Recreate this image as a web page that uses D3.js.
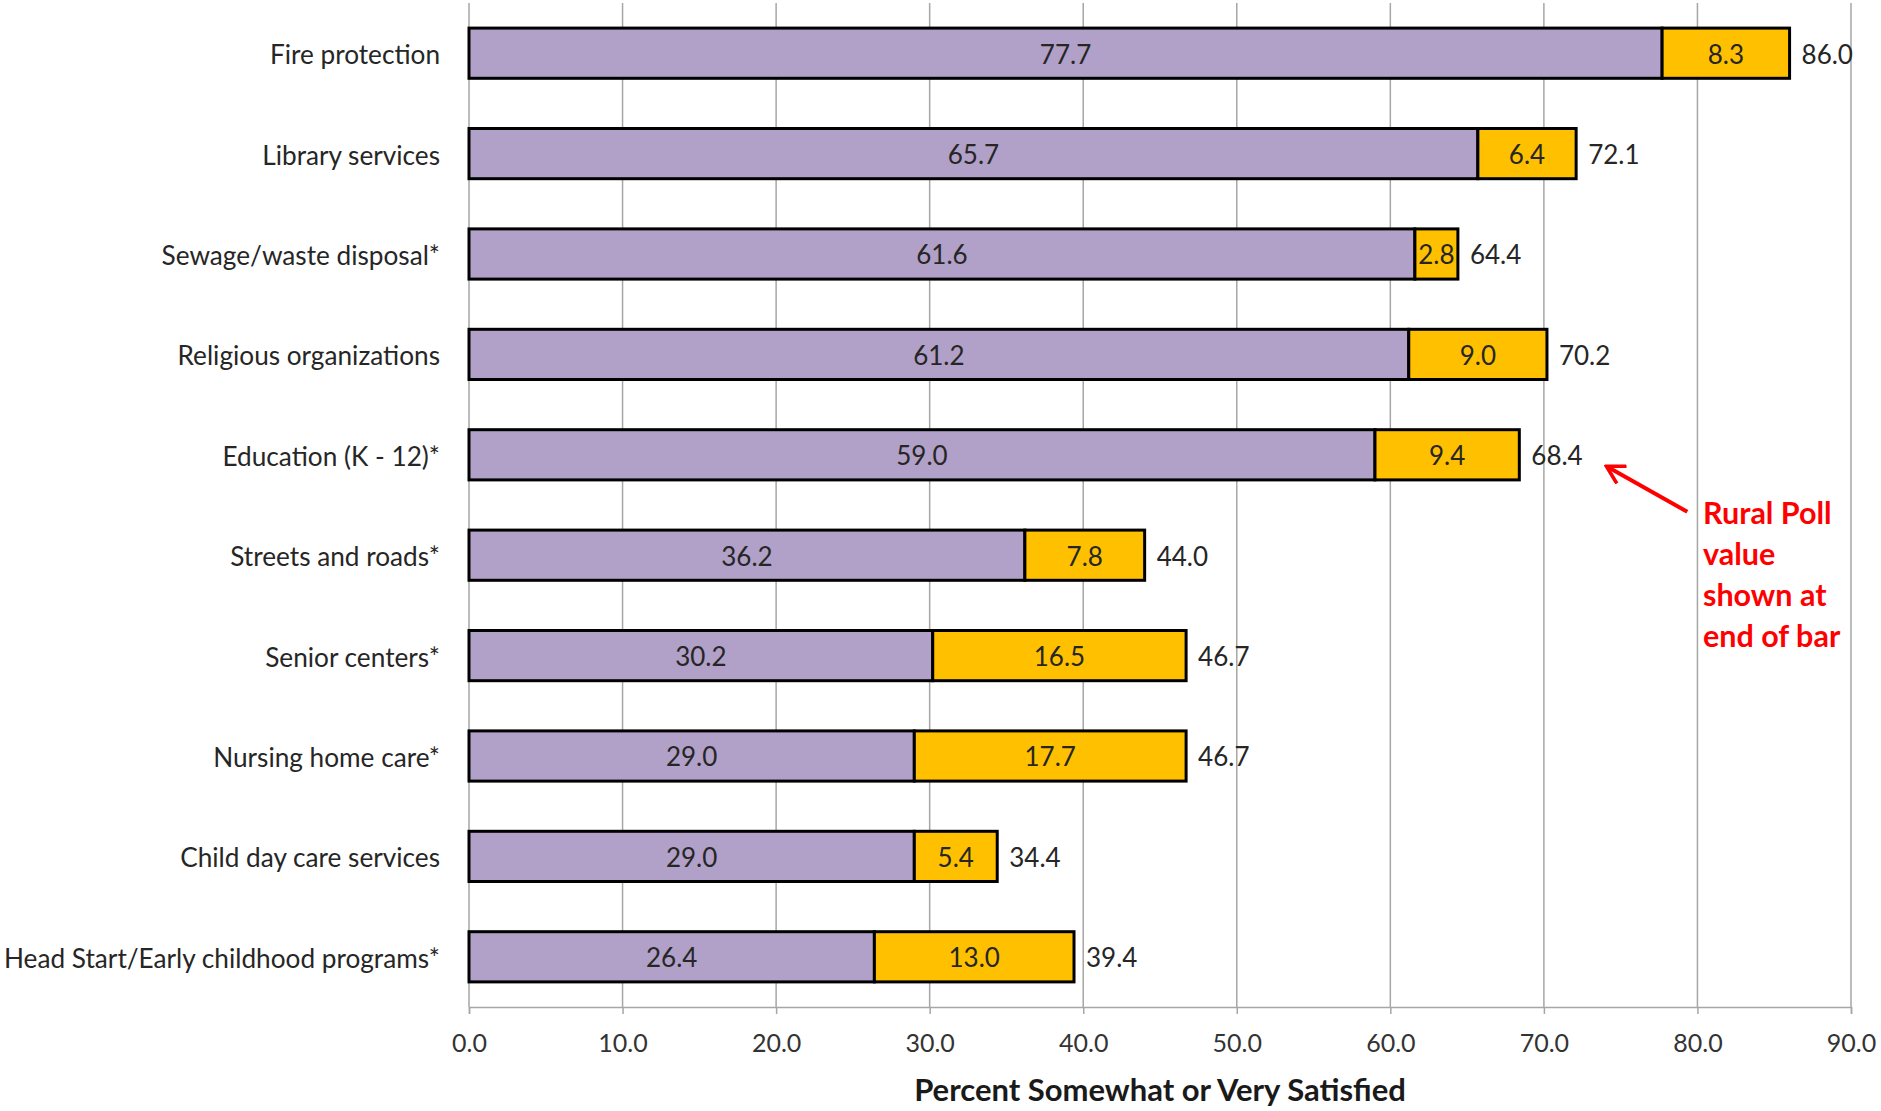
<!DOCTYPE html>
<html>
<head>
<meta charset="utf-8">
<script src="https://cdn.jsdelivr.net/npm/d3@7"></script>
<style>
  html, body { margin: 0; padding: 0; background: #fff; }
  svg { display: block; }
  text { font-family: Lato, "Open Sans", sans-serif; }
</style>
</head>
<body>
<svg id="chart" width="1881" height="1111"></svg>
<script>
const categories = [
  "Fire protection",
  "Library services",
  "Sewage/waste disposal*",
  "Religious organizations",
  "Education (K - 12)*",
  "Streets and roads*",
  "Senior centers*",
  "Nursing home care*",
  "Child day care services",
  "Head Start/Early childhood programs*"
];
const verySatisfied = [77.7, 65.7, 61.6, 61.2, 59.0, 36.2, 30.2, 29.0, 29.0, 26.4];
const somewhatSatisfied = [8.3, 6.4, 2.8, 9.0, 9.4, 7.8, 16.5, 17.7, 5.4, 13.0];
const ruralPollTotals = [86.0, 72.1, 64.4, 70.2, 68.4, 44.0, 46.7, 46.7, 34.4, 39.4];
const xTicks = [0, 10, 20, 30, 40, 50, 60, 70, 80, 90];
const xAxisTitle = "Percent Somewhat or Very Satisfied";
const annotationLines = ["Rural Poll", "value", "shown at", "end of bar"];
const annotatedCategory = "Education (K - 12)*";

const svg = d3.select("#chart");
const plot = { left: 469, right: 1851, top: 3, bottom: 1007 };

const x = d3.scaleLinear().domain([0, 90]).range([plot.left, plot.right]);
const y = d3.scaleBand().domain(categories).range([plot.top, plot.bottom])
  .paddingInner(0.5).paddingOuter(0.25);

// gridlines
svg.append("g").selectAll("line").data(xTicks).join("line")
  .attr("x1", d => x(d)).attr("x2", d => x(d))
  .attr("y1", plot.top).attr("y2", plot.bottom)
  .attr("stroke", "#a6a6a6").attr("stroke-width", 1.5);

// x axis
const xAxis = d3.axisBottom(x).tickValues(xTicks).tickFormat(d3.format(".1f"))
  .tickSize(7).tickPadding(20);
const gx = svg.append("g").attr("transform", `translate(0,${plot.bottom})`).call(xAxis);
gx.select(".domain").attr("stroke", "#a6a6a6").attr("stroke-width", 1.5);
gx.selectAll(".tick line").attr("stroke", "#a6a6a6").attr("stroke-width", 1.5);
gx.selectAll(".tick text").attr("font-size", 25).attr("fill", "#333")
  .style("font-family", "Lato, sans-serif");

// axis title
svg.append("text").attr("x", (plot.left + plot.right) / 2).attr("y", 1101)
  .attr("text-anchor", "middle").attr("font-size", 31).attr("font-weight", "bold")
  .attr("fill", "#1a1a1a").text(xAxisTitle);

// category labels
svg.append("g").selectAll("text").data(categories).join("text")
  .attr("x", 440).attr("y", d => y(d) + y.bandwidth() / 2)
  .attr("dy", "0.42em").attr("text-anchor", "end")
  .attr("font-size", 26.2).attr("fill", "#262626").text(d => d);

const rows = categories.map((c, i) => ({
  cat: c, a: verySatisfied[i], b: somewhatSatisfied[i], total: ruralPollTotals[i]
}));

const bars = svg.append("g");
// purple segments
bars.selectAll("rect.a").data(rows).join("rect").attr("class", "a")
  .attr("x", x(0)).attr("y", d => y(d.cat))
  .attr("width", d => x(d.a) - x(0)).attr("height", y.bandwidth())
  .attr("fill", "#b1a0c7").attr("stroke", "#000").attr("stroke-width", 3);
// gold segments
bars.selectAll("rect.b").data(rows).join("rect").attr("class", "b")
  .attr("x", d => x(d.a)).attr("y", d => y(d.cat))
  .attr("width", d => x(d.a + d.b) - x(d.a)).attr("height", y.bandwidth())
  .attr("fill", "#ffc000").attr("stroke", "#000").attr("stroke-width", 3);

const fmt = d3.format(".1f");
const labels = svg.append("g").attr("font-size", 26).attr("fill", "#262626");
labels.selectAll("text.a").data(rows).join("text").attr("class", "a")
  .attr("x", d => (x(0) + x(d.a)) / 2).attr("y", d => y(d.cat) + y.bandwidth() / 2)
  .attr("dy", "0.4em").attr("text-anchor", "middle").text(d => fmt(d.a));
labels.selectAll("text.b").data(rows).join("text").attr("class", "b")
  .attr("x", d => (x(d.a) + x(d.a + d.b)) / 2).attr("y", d => y(d.cat) + y.bandwidth() / 2)
  .attr("dy", "0.4em").attr("text-anchor", "middle").text(d => fmt(d.b));
labels.selectAll("text.t").data(rows).join("text").attr("class", "t")
  .attr("x", d => x(d.a + d.b) + 12).attr("y", d => y(d.cat) + y.bandwidth() / 2)
  .attr("dy", "0.4em").attr("text-anchor", "start").text(d => fmt(d.total));

// annotation
const annRow = rows.find(r => r.cat === annotatedCategory);
const tipX = x(annRow.a + annRow.b) + 88;
const tipY = y(annRow.cat) + y.bandwidth() / 2 + 12;
const tailX = tipX + 80, tailY = tipY + 45;
svg.append("defs").append("marker").attr("id", "ah")
  .attr("viewBox", "0 0 10 10").attr("refX", 8.5).attr("refY", 5)
  .attr("markerWidth", 5.5).attr("markerHeight", 5.5).attr("orient", "auto-start-reverse")
  .attr("markerUnits", "strokeWidth")
  .append("path").attr("d", "M1,0.5 L9,5 L1,9.5").attr("fill", "none")
  .attr("stroke", "#ff0000").attr("stroke-width", 1.6).attr("stroke-linejoin", "miter");
svg.append("line").attr("x1", tailX).attr("y1", tailY).attr("x2", tipX).attr("y2", tipY)
  .attr("stroke", "#ff0000").attr("stroke-width", 4).attr("marker-end", "url(#ah)");

svg.append("g").selectAll("text").data(annotationLines).join("text")
  .attr("x", 1703).attr("y", (d, i) => 524 + i * 41)
  .attr("font-size", 30.5).attr("font-weight", "bold").attr("fill", "#ff0000")
  .text(d => d);
</script>
</body>
</html>
